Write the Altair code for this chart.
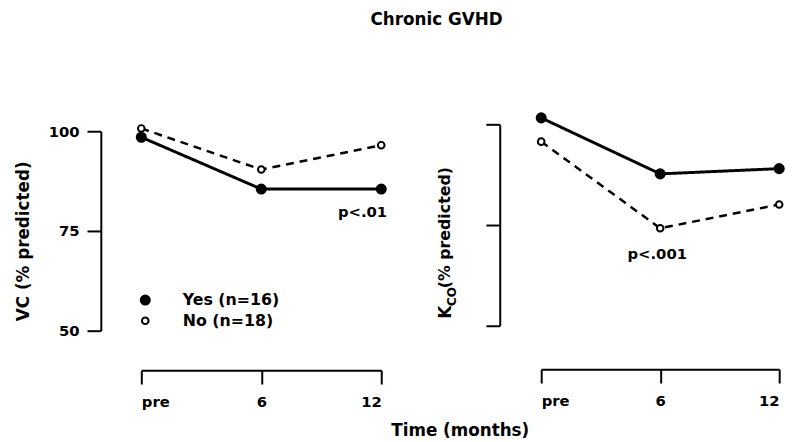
import altair as alt
import pandas as pd

# ---- data ----
months = ["pre", "6", "12"]
month_pos = [0, 6, 12]
groups = ["Yes (n=16)", "No (n=18)"]
vc_yes = [98.5, 85.5, 85.5]
vc_no = [100.7, 90.4, 96.5]
kco_yes = [101.6, 87.7, 89.0]
kco_no = [95.7, 74.2, 80.1]
y_ticks = [50, 75, 100]
p_left = ["p<.01", 12, 79.7]
p_right = ["p<.001", 6, 67.9]

FONT = "DejaVu Sans"
txt = dict(font=FONT, fontWeight="bold", color="black")


def make_df(yes, no):
    rows = []
    for g, vals in zip(groups, [yes, no]):
        for m, t, v in zip(months, month_pos, vals):
            rows.append({"group": g, "month": m, "t": t, "v": v})
    return pd.DataFrame(rows)


def panel(df, y_axis, x_offset, y_range):
    x = alt.X(
        "t:Q",
        scale=alt.Scale(domain=[0, 12], nice=False, zero=False),
        axis=alt.Axis(
            values=month_pos, labelExpr="datum.value == 0 ? 'pre' : datum.label",
            title=None, grid=False, offset=x_offset, tickSize=14, tickWidth=2,
            domainWidth=2, domainColor="black", tickColor="black",
            labelFont=FONT, labelFontSize=15, labelFontWeight="bold",
            labelColor="black", labelPadding=11,
        ),
    )
    y = alt.Y("v:Q", scale=alt.Scale(domain=[50, 100], nice=False, zero=False, range=y_range), axis=y_axis)
    dash = alt.StrokeDash("group:N", scale=alt.Scale(domain=groups, range=[[1, 0], [8, 6]]), legend=None)
    sw = alt.StrokeWidth("group:N", scale=alt.Scale(domain=groups, range=[3, 2.5]), legend=None)
    lines = alt.Chart(df).mark_line(color="black").encode(x=x, y=y, strokeDash=dash, strokeWidth=sw)
    fill = alt.Fill("group:N", scale=alt.Scale(domain=groups, range=["black", "white"]), legend=None)
    size = alt.Size("group:N", scale=alt.Scale(domain=groups, range=[85, 45]), legend=None)
    pts = alt.Chart(df).mark_point(shape="circle", filled=True, stroke="black", strokeWidth=2, opacity=1).encode(
        x=x, y=y, fill=fill, size=size
    )
    return lines, pts, y


left_df = make_df(vc_yes, vc_no)
right_df = make_df(kco_yes, kco_no)

left_y_axis = alt.Axis(
    values=y_ticks, offset=41, tickSize=14, tickWidth=2, domainWidth=2,
    domainColor="black", tickColor="black", grid=False,
    labelFont=FONT, labelFontSize=15, labelFontWeight="bold", labelColor="black", labelPadding=8,
    title="VC (% predicted)", titleFont=FONT, titleFontSize=17, titleFontWeight="bold",
    titleColor="black", titlePadding=16, titleY=111,
)
right_y_axis = alt.Axis(
    values=y_ticks, offset=42, tickSize=14, tickWidth=2, domainWidth=2,
    domainColor="black", tickColor="black", grid=False, labels=False, title=None,
)

l_lines, l_pts, ly = panel(left_df, left_y_axis, 40, [202, 0])
r_lines, r_pts, ry = panel(right_df, right_y_axis, 39, [197, -7])

pl_df = pd.DataFrame([{"text": p_left[0], "t": p_left[1], "v": p_left[2]}])
pr_df = pd.DataFrame([{"text": p_right[0], "t": p_right[1], "v": p_right[2]}])

l_p = alt.Chart(pl_df).mark_text(align="right", baseline="middle", dx=6, fontSize=15, **txt).encode(
    x=alt.X("t:Q"), y=ly, text="text:N")
r_p = alt.Chart(pr_df).mark_text(align="center", baseline="middle", dx=-3, fontSize=15, **txt).encode(
    x=alt.X("t:Q"), y=ry, text="text:N")


def label(s, x, y, size=17, align="center", angle=0):
    kw = dict(align=align, baseline="middle", fontSize=size, **txt)
    if angle:
        kw["angle"] = angle
    return alt.Chart(pd.DataFrame({"s": [s]})).mark_text(**kw).encode(
        x=alt.value(x), y=alt.value(y), text="s:N")


title_txt = label("Chronic GVHD", 299, -113)
time_txt = label("Time (months)", 323, 304)

# legend (left panel)
leg_yes_pt = alt.Chart(pd.DataFrame({"s": [groups[0]]})).mark_point(
    shape="circle", filled=True, fill="black", stroke="black", strokeWidth=2, size=85, opacity=1
).encode(x=alt.value(4), y=alt.value(171))
leg_no_pt = alt.Chart(pd.DataFrame({"s": [groups[1]]})).mark_point(
    shape="circle", filled=True, fill="white", stroke="black", strokeWidth=2, size=45, opacity=1
).encode(x=alt.value(4), y=alt.value(192))
leg_yes_txt = label(groups[0], 42, 171, size=16, align="left")
leg_no_txt = label(groups[1], 42, 192, size=16, align="left")

# right y-axis title with subscript
k_txt = label("K", -96, 190, size=17, align="left", angle=270)
co_txt = label("CO", -90, 177, size=12, align="left", angle=270)
pred_txt = label("(% predicted)", -97, 159, size=16, align="left", angle=270)

left = alt.layer(
    l_lines, l_pts, l_p, title_txt, time_txt, leg_yes_pt, leg_no_pt, leg_yes_txt, leg_no_txt
).properties(width=243, height=202)
right = alt.layer(r_lines, r_pts, r_p, k_txt, co_txt, pred_txt).properties(width=241, height=202)

chart = (
    alt.hconcat(left, right, spacing=162, bounds="flush")
    .resolve_scale(fill="independent", size="independent", strokeDash="independent",
                   strokeWidth="independent", y="independent")
    .configure_view(stroke=None)
    .properties(padding={"left": 6, "top": 0, "right": 5, "bottom": 6}, background="white")
)

chart.save("out.html", embed_options={"renderer": "svg", "actions": False})
